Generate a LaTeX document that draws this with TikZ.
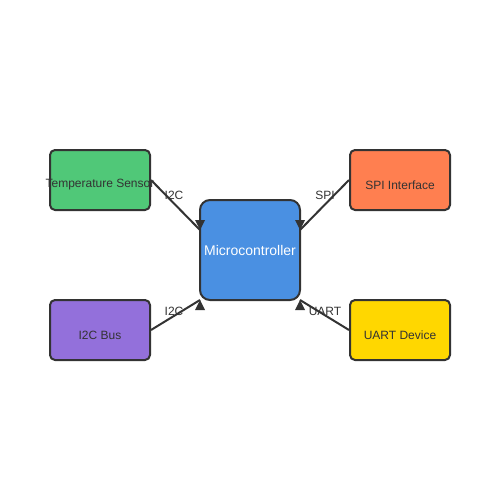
\documentclass[tikz,border=0pt]{standalone}
\usepackage{fontspec}
\setmainfont{Liberation Sans}
\definecolor{bordo}{HTML}{333333}
\definecolor{verde}{HTML}{50C878}
\definecolor{corallo}{HTML}{FF7F50}
\definecolor{blu}{HTML}{4A90E2}
\definecolor{viola}{HTML}{9370DB}
\definecolor{oro}{HTML}{FFD700}
\tikzset{
    blocco/.style={draw=bordo, line width=2pt, rounded corners=5pt,
        minimum width=100pt, minimum height=60pt, inner sep=0pt},
    testoblocco/.style={yshift=-5pt, inner sep=0pt, text=bordo,
        font=\fontsize{12}{14}\selectfont},
    collegamento/.style={draw=bordo, line width=2pt},
    etichetta/.style={inner sep=0pt, text=bordo, font=\fontsize{12}{14}\selectfont}
}
\begin{document}
\begin{tikzpicture}[x=1pt, y=-1pt]
        \useasboundingbox (0,0) rectangle (500,500);

        % Blocchi periferici e microcontrollore
        \node[blocco, fill=verde, label={[testoblocco]center:Temperature Sensor}](sensore) at (100,180) {};
        \node[blocco, fill=corallo, label={[testoblocco]center:SPI Interface}](spi) at (400,180) {};
        \node[blocco, fill=viola, label={[testoblocco]center:I2C Bus}](bus) at (100,330) {};
        \node[blocco, fill=oro, label={[testoblocco]center:UART Device}](uart) at (400,330) {};
        \node[blocco, fill=blu, rounded corners=10pt, minimum width=100pt, minimum height=100pt,
            text=white, font=\fontsize{14}{16}\selectfont](mcu) at (250,250) {Microcontroller};

        % Punti di arrivo sul microcontrollore
        \coordinate (mcuNO) at (200,230);
        \coordinate (mcuNE) at (300,230);
        \coordinate (mcuSO) at (200,300);
        \coordinate (mcuSE) at (300,300);

        % Collegamenti
        \draw[collegamento] (sensore.east)--(mcuNO);
        \draw[collegamento] (spi.west)--(mcuNE);
        \draw[collegamento] (bus.east)--(mcuSO);
        \draw[collegamento] (uart.west)--(mcuSE);

        % Punte delle frecce
        \fill[bordo] (mcuNO) -- ++(-5,-10) -- ++(10,0) -- cycle;
        \fill[bordo] (mcuNE) -- ++(-5,-10) -- ++(10,0) -- cycle;
        \fill[bordo] (mcuSO) -- ++(-5,10) -- ++(10,0) -- cycle;
        \fill[bordo] (mcuSE) -- ++(-5,10) -- ++(10,0) -- cycle;

        % Etichette dei collegamenti
        \node[etichetta](lblsensore) at (174,195) {I2C};
        \node[etichetta](lblspi) at (325,195) {SPI};
        \node[etichetta](lblbus) at (174,311) {I2C};
        \node[etichetta](lbluart) at (325,311) {UART};
    \end{tikzpicture}
\end{document}
